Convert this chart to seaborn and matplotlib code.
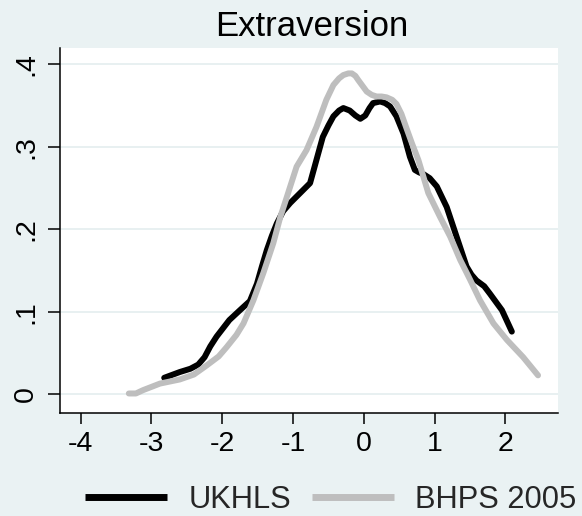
import matplotlib
matplotlib.use("Agg")
import matplotlib.pyplot as plt
import seaborn as sns
import pandas as pd
import numpy as np

# ---- data ----
ukhls_x = [-2.82, -2.60, -2.45, -2.34, -2.25, -2.17, -2.08, -1.99, -1.90, -1.75,
           -1.61, -1.51, -1.44, -1.37, -1.30, -1.23, -1.14, -1.04, -0.90, -0.76,
           -0.67, -0.58, -0.50, -0.43, -0.35, -0.29, -0.20, -0.12, -0.05, 0.02,
           0.08, 0.13, 0.23, 0.30, 0.37, 0.46, 0.56, 0.65, 0.72, 0.78,
           0.84, 0.93, 1.03, 1.17, 1.31, 1.45, 1.52, 1.59, 1.70, 1.78,
           1.95, 2.09]
ukhls_y = [0.020, 0.027, 0.031, 0.036, 0.045, 0.058, 0.070, 0.080, 0.090, 0.102,
           0.113, 0.134, 0.155, 0.175, 0.192, 0.207, 0.222, 0.232, 0.244, 0.256,
           0.284, 0.312, 0.326, 0.337, 0.344, 0.347, 0.344, 0.338, 0.334, 0.338,
           0.347, 0.353, 0.355, 0.353, 0.349, 0.337, 0.316, 0.288, 0.272, 0.269,
           0.267, 0.262, 0.252, 0.227, 0.191, 0.155, 0.145, 0.138, 0.131, 0.122,
           0.102, 0.076]

bhps_x = [-3.32, -3.22, -3.12, -2.88, -2.60, -2.40, -2.22, -2.05, -1.94, -1.80,
          -1.70, -1.56, -1.42, -1.28, -1.18, -1.10, -1.04, -0.95, -0.81, -0.67,
          -0.53, -0.43, -0.35, -0.29, -0.22, -0.17, -0.12, -0.08, -0.02, 0.04,
          0.11, 0.18, 0.25, 0.32, 0.40, 0.46, 0.53, 0.60, 0.68, 0.77,
          0.91, 1.07, 1.22, 1.36, 1.50, 1.64, 1.83, 2.02, 2.25, 2.46]
bhps_y = [0.001, 0.001, 0.005, 0.013, 0.018, 0.024, 0.035, 0.046, 0.057, 0.072,
          0.086, 0.114, 0.147, 0.183, 0.215, 0.236, 0.252, 0.276, 0.296, 0.324,
          0.357, 0.375, 0.383, 0.387, 0.389, 0.389, 0.386, 0.381, 0.374, 0.367,
          0.363, 0.361, 0.361, 0.360, 0.357, 0.352, 0.340, 0.323, 0.304, 0.284,
          0.244, 0.216, 0.191, 0.163, 0.139, 0.114, 0.086, 0.066, 0.045, 0.023]

series_names = ["UKHLS", "BHPS 2005"]
xtick_vals = [-4, -3, -2, -1, 0, 1, 2]
xtick_labels = ["-4", "-3", "-2", "-1", "0", "1", "2"]
ytick_vals = [0, 0.1, 0.2, 0.3, 0.4]
ytick_labels = ["0", ".1", ".2", ".3", ".4"]
title_text = "Extraversion"

# ---- styling ----
BG = "#EAF2F3"
GRID = "#E4EDEF"
sns.set_theme(style="white")
plt.rcParams["font.family"] = ["Liberation Sans", "DejaVu Sans"]

df = pd.concat([
    pd.DataFrame({"x": ukhls_x, "density": ukhls_y, "series": series_names[0]}),
    pd.DataFrame({"x": bhps_x, "density": bhps_y, "series": series_names[1]}),
], ignore_index=True)

W, H = 582, 516
fig = plt.figure(figsize=(W / 100, H / 100), dpi=100, facecolor=BG)
L, R, T, B = 60, 558, 48, 412.7
ax = fig.add_axes([L / W, 1 - B / H, (R - L) / W, (B - T) / H])
ax.set_facecolor("white")

palette = {series_names[0]: "#000000", series_names[1]: "#BEBEBE"}
for name in series_names:
    sns.lineplot(data=df[df["series"] == name], x="x", y="density", ax=ax,
                 color=palette[name], linewidth=4.3, label=name,
                 estimator=None, sort=False,
                 solid_joinstyle="round", solid_capstyle="round")

ax.set_xlim(-4.292, 2.742)
ax.set_ylim(-0.0223, 0.4198)
ax.set_xticks(xtick_vals)
ax.set_xticklabels(xtick_labels)
ax.set_yticks(ytick_vals)
ax.set_yticklabels(ytick_labels, rotation=90, va="center")
ax.set_xlabel("")
ax.set_ylabel("")

ax.grid(False)
for yv in ytick_vals:
    ax.axhline(yv, color=GRID, linewidth=1.2, zorder=0)

for s in ["top", "right"]:
    ax.spines[s].set_visible(False)
for s in ["left", "bottom"]:
    ax.spines[s].set_color("black")
    ax.spines[s].set_linewidth(1.1)

ax.tick_params(axis="x", direction="out", length=7.6, width=1.1, color="black",
               pad=5.5, labelsize=20.5, labelcolor="black", bottom=True)
ax.tick_params(axis="y", direction="out", length=8.6, width=1.1, color="black",
               pad=6.5, labelsize=20.5, labelcolor="black", left=True)

handles, labels = ax.get_legend_handles_labels()
if ax.get_legend() is not None:
    ax.get_legend().remove()
leg = fig.legend(handles, labels, loc="center left",
                 bbox_to_anchor=(85 / W, 1 - 500 / H), ncol=2, frameon=False,
                 fontsize=22.2, handlelength=2.66, handletextpad=0.71,
                 columnspacing=0.65, borderpad=0, borderaxespad=0)
for ln in leg.get_lines():
    ln.set_linewidth(5.0)
    ln.set_solid_capstyle("butt")

fig.text(311.7 / W, 1 - 35.7 / H, title_text, ha="center", va="baseline",
         fontsize=25, color="black")

fig.savefig("out.png", dpi=100, facecolor=BG)
